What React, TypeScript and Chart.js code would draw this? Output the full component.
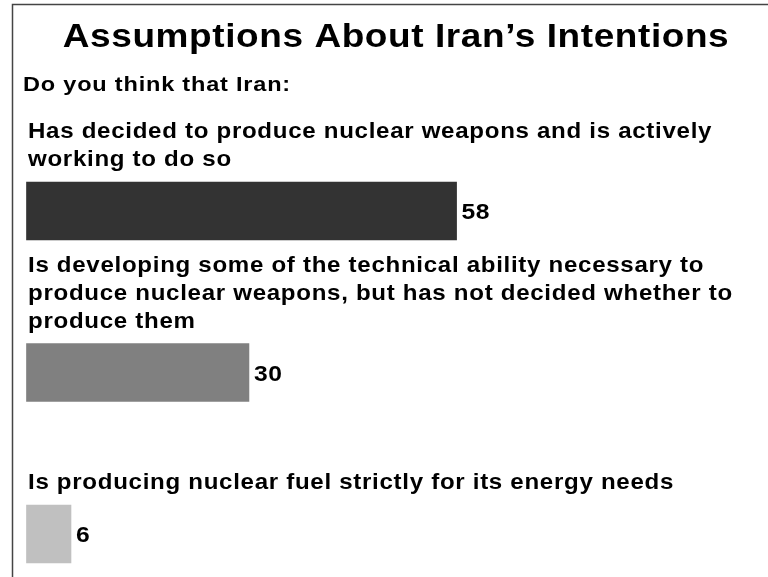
import React, { useEffect, useRef } from "react";
import { Chart, registerables } from "chart.js";

Chart.register(...registerables);

const titleText = "Assumptions About Iran\u2019s Intentions";
const subtitleText = "Do you think that Iran:";
const categories = ["Decided", "Developing", "Energy"];
const categoryLines = [
  ["Has decided to produce nuclear weapons and is actively", "working to do so"],
  [
    "Is developing some of the technical ability necessary to",
    "produce nuclear weapons, but has not decided whether to",
    "produce them",
  ],
  ["Is producing nuclear fuel strictly for its energy needs"],
];
const values = [58, 30, 6];
const barColors = ["#333333", "#808080", "#c0c0c0"];

const FONT = '"Liberation Sans", Arial, Helvetica, sans-serif';
const STRETCH = 1.12;

function drawText(
  ctx: CanvasRenderingContext2D,
  text: string,
  x: number,
  y: number,
  size: number,
  align: CanvasTextAlign,
  spacing: number
) {
  ctx.save();
  ctx.font = `bold ${size}px ${FONT}`;
  ctx.fillStyle = "#000000";
  ctx.textAlign = "left";
  ctx.textBaseline = "alphabetic";
  (ctx as any).letterSpacing = `${spacing / STRETCH}px`;
  const w = (ctx.measureText(text).width - spacing / STRETCH) * STRETCH;
  const startX = align === "center" ? x - w / 2 : x;
  ctx.translate(startX, y);
  ctx.scale(STRETCH, 1);
  ctx.fillText(text, 0, 0);
  ctx.restore();
}

const decorPlugin = {
  id: "decor",
  beforeDraw(chart: any) {
    const ctx: CanvasRenderingContext2D = chart.ctx;
    ctx.save();
    ctx.fillStyle = "#ffffff";
    ctx.fillRect(0, 0, chart.width, chart.height);
    ctx.strokeStyle = "#444444";
    ctx.lineWidth = 1.5;
    ctx.beginPath();
    ctx.moveTo(12.5, chart.height);
    ctx.lineTo(12.5, 4.5);
    ctx.lineTo(chart.width, 4.5);
    ctx.stroke();
    ctx.restore();
  },
  afterDraw(chart: any) {
    const ctx: CanvasRenderingContext2D = chart.ctx;
    const area = chart.chartArea;
    const cx = (area.left + area.right) / 2 - 1.5;
    drawText(ctx, titleText, cx, 47, 33, "center", 0.6);
    drawText(ctx, subtitleText, 23, 91, 21, "left", 0.8);
    const meta = chart.getDatasetMeta(0);
    meta.data.forEach((bar: any, i: number) => {
      const top = bar.y - bar.height / 2;
      const lines = categoryLines[i];
      const lh = 28;
      const lastBaseline = top - 16;
      lines.forEach((ln, j) => {
        const y = lastBaseline - (lines.length - 1 - j) * lh;
        drawText(ctx, ln, area.left + 1.5, y, 21.5, "left", 0.7);
      });
      drawText(ctx, String(values[i]), bar.x + 5, bar.y + 8, 22, "left", 0.5);
    });
  },
};

export default function App() {
  const ref = useRef<HTMLCanvasElement | null>(null);
  useEffect(() => {
    if (!ref.current) return;
    const chart = new Chart(ref.current, {
      type: "bar",
      data: {
        labels: categories,
        datasets: [
          {
            data: values,
            backgroundColor: barColors,
            borderWidth: 0,
            barThickness: 58,
            clip: false as any,
          },
        ],
      },
      options: {
        indexAxis: "y",
        responsive: false,
        animation: false,
        devicePixelRatio: 1,
        layout: { padding: { left: 26.5, right: 0, top: 211, bottom: 43 } },
        scales: {
          x: { display: false, min: 0, max: 100 },
          y: { display: false, offset: false },
        },
        plugins: {
          legend: { display: false },
          tooltip: { enabled: false },
          title: { display: false },
        },
      },
      plugins: [decorPlugin],
    });
    return () => chart.destroy();
  }, []);
  return (
    <div style={{ position: "absolute", left: 0, top: 0, width: 768, height: 577, background: "#fff" }}>
      <canvas ref={ref} width={768} height={577} style={{ display: "block" }} />
    </div>
  );
}
